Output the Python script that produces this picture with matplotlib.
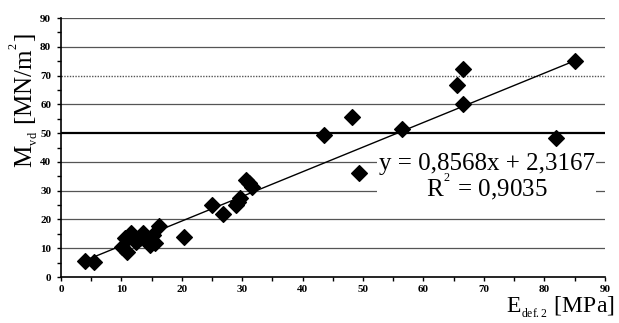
import matplotlib.pyplot as plt
import numpy as np
from matplotlib.ticker import MultipleLocator

# Data: E_def.2 [MPa] vs M_vd [MN/m2]
e_def2 = [4.0, 5.5, 10.1, 10.6, 10.9, 11.2, 11.6, 12.5, 13.0, 13.6, 14.2, 14.7,
          15.2, 15.6, 16.2, 20.4, 25.0, 26.8, 29.0, 29.3, 29.6, 30.6, 31.2,
          31.6, 43.5, 48.2, 49.4, 56.4, 65.5, 66.6, 66.6, 82.0, 85.1]
m_vd = [5.6, 5.2, 10.4, 13.5, 8.7, 14.0, 15.3, 12.2, 13.5, 15.3, 13.0, 11.1,
        14.6, 11.8, 17.7, 13.9, 25.0, 21.9, 25.0, 26.1, 27.5, 33.8, 32.8,
        31.3, 49.3, 55.6, 36.1, 51.4, 66.7, 72.3, 60.1, 48.3, 75.0]

# Linear trend line as given on the chart
slope = 0.8568
intercept = 2.3167

fig = plt.figure(figsize=(6.19, 3.23), dpi=100)
ax = fig.add_axes([0.0985, 0.1424, 0.8785, 0.8016])

# grid lines
for g in [10, 20, 30, 40, 60, 80, 90]:
    ax.axhline(g, color='#555555', lw=0.9, zorder=1)
ax.axhline(50, color='black', lw=1.6, zorder=1)
ax.axhline(70, color='#555555', lw=1.0, ls=(0, (1, 1)), zorder=1)

ax.scatter(e_def2, m_vd, marker='D', s=64, color='black', zorder=3)

xs = np.array([min(e_def2), max(e_def2)])
ax.plot(xs, slope * xs + intercept, color='black', lw=1.0, zorder=2)

ax.set_xlim(0, 90)
ax.set_ylim(0, 90)
ax.xaxis.set_major_locator(MultipleLocator(10))
ax.xaxis.set_minor_locator(MultipleLocator(5))
ax.yaxis.set_major_locator(MultipleLocator(10))
ax.yaxis.set_minor_locator(MultipleLocator(5))
ax.tick_params(which='both', direction='out', length=3, width=1.0)
ax.tick_params(axis='x', pad=2.5)
ax.tick_params(axis='y', pad=4)
for spine in ['top', 'right']:
    ax.spines[spine].set_visible(False)
ax.spines['left'].set_linewidth(1.2)
ax.spines['bottom'].set_linewidth(1.2)

for lab in ax.get_xticklabels() + ax.get_yticklabels():
    lab.set_fontfamily('Liberation Serif')
    lab.set_fontweight('bold')
    lab.set_fontsize(8)

eq = 'y = 0,8568x + 2,3167\nR$^{{}^{\\mathregular{2}}}$ = 0,9035'
ax.text(0.783, 0.385, eq, transform=ax.transAxes, ha='center', va='center',
        family='Liberation Serif', fontsize=18, linespacing=0.85,
        math_fontfamily='stix',
        bbox=dict(facecolor='white', edgecolor='none', pad=1), zorder=4)

fig.text(0.038, 0.69, r'M$_{{}_{\mathregular{vd}}}$ [MN/m$^{{}^{\mathregular{2}}}$]',
         rotation=90, ha='center', va='center', family='Liberation Serif',
         fontsize=18, math_fontfamily='stix')
fig.text(0.993, 0.048, r'E$_{{}_{\mathregular{def.2}}}$ [MPa]', ha='right',
         va='center', family='Liberation Serif', fontsize=17,
         math_fontfamily='stix')

fig.savefig('out.png', dpi=100)
